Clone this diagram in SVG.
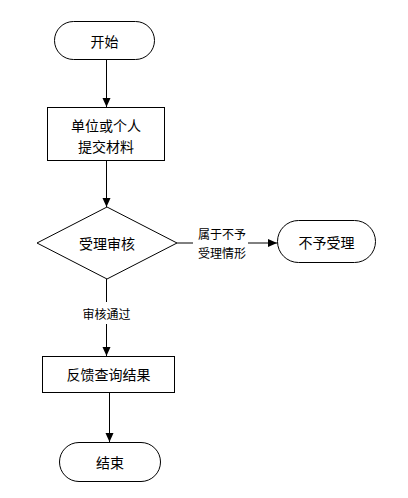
<svg xmlns="http://www.w3.org/2000/svg" width="408" height="498" viewBox="0 0 408 498">
<style>
.n{fill:#fff;stroke:#000;stroke-width:1}
.t{font-family:"Noto Sans CJK SC","Liberation Sans",sans-serif;font-size:14px;fill:#000;text-anchor:middle;dominant-baseline:central}
.l{font-family:"Noto Sans CJK SC","Liberation Sans",sans-serif;font-size:12px;fill:#000;text-anchor:middle;dominant-baseline:central}
.c{fill:none;stroke:#000;stroke-width:1}
</style>
<defs>
<marker id="a" markerWidth="10" markerHeight="10" refX="9" refY="5" orient="auto" markerUnits="userSpaceOnUse">
<path d="M0,1 L9,5 L0,9 Z" fill="#000"/>
</marker>
</defs>
<rect width="408" height="498" fill="#fff"/>
<g id="connectors">
<line class="c" x1="106.5" y1="60" x2="106.5" y2="107" marker-end="url(#a)"/>
<line class="c" x1="106.5" y1="161" x2="106.5" y2="207" marker-end="url(#a)"/>
<line class="c" x1="177" y1="243" x2="193" y2="243"/>
<line class="c" x1="248" y1="243" x2="277" y2="243" marker-end="url(#a)"/>
<text class="l" x="222" y="233">属于不予</text>
<text class="l" x="222" y="252">受理情形</text>
<line class="c" x1="106.5" y1="279" x2="106.5" y2="302"/>
<line class="c" x1="106.5" y1="324" x2="106.5" y2="356" marker-end="url(#a)"/>
<text class="l" x="106.5" y="313">审核通过</text>
<line class="c" x1="109.5" y1="393" x2="109.5" y2="442" marker-end="url(#a)"/>
</g>
<g id="start">
<rect class="n" x="54.5" y="21.5" width="100" height="38" rx="19"/>
<text class="t" x="104.5" y="40.5">开始</text>
</g>
<g id="submit">
<rect class="n" x="47.5" y="107.5" width="117" height="53"/>
<text class="t" x="106" y="125">单位或个人</text>
<text class="t" x="106" y="146">提交材料</text>
</g>
<g id="review">
<polygon class="n" points="107,207 177,243 107,279 37,243"/>
<text class="t" x="107" y="243">受理审核</text>
</g>
<g id="reject">
<rect class="n" x="277.5" y="220.5" width="98" height="42" rx="21"/>
<text class="t" x="326.5" y="241.5">不予受理</text>
</g>
<g id="feedback">
<rect class="n" x="42.5" y="356.5" width="132" height="36"/>
<text class="t" x="108.5" y="374">反馈查询结果</text>
</g>
<g id="end">
<rect class="n" x="59.5" y="442.5" width="101" height="39" rx="19.5"/>
<text class="t" x="110" y="462">结束</text>
</g>
</svg>
